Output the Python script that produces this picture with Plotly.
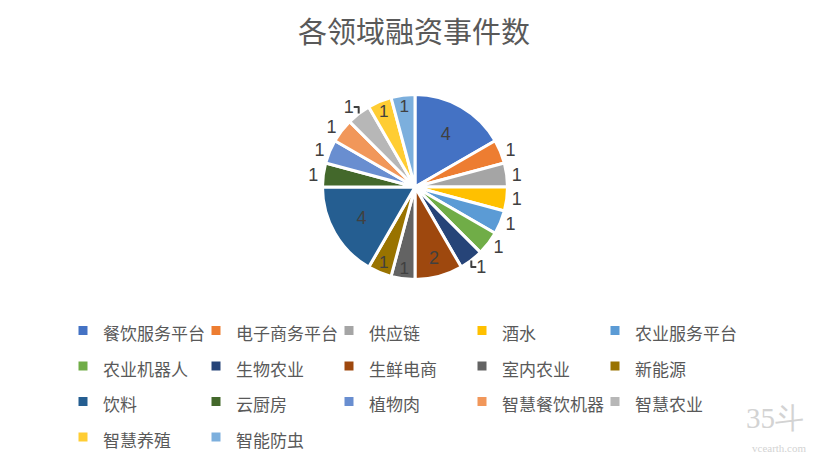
import plotly.graph_objects as go

categories = ["餐饮服务平台", "电子商务平台", "供应链", "酒水", "农业服务平台",
              "农业机器人", "生物农业", "生鲜电商", "室内农业", "新能源",
              "饮料", "云厨房", "植物肉", "智慧餐饮机器", "智慧农业",
              "智慧养殖", "智能防虫"]
values = [4, 1, 1, 1, 1, 1, 1, 2, 1, 1, 4, 1, 1, 1, 1, 1, 1]
colors = ["#4472C4", "#ED7D31", "#A5A5A5", "#FFC000", "#5B9BD5", "#70AD47",
          "#264478", "#9E480E", "#636363", "#997300", "#255E91", "#43682B",
          "#698ED0", "#F1975A", "#B7B7B7", "#FFCD33", "#7CAFDD"]
text_positions = ["inside", "outside", "outside", "outside", "outside", "outside",
                  "outside", "inside", "inside", "inside", "inside", "outside",
                  "outside", "outside", "outside", "inside", "inside"]

W, H = 825, 463
OFF = 8          # page body margin offset
MR = 40          # right margin so that the legend wraps after 5 entries
GW = W - MR      # plot-area width


def px_x(sx):
    return (sx - OFF) / GW


def px_y(sy):
    return 1 - (sy - OFF) / H


legend_labels = [f"<span style='font-size:17px'>{c}</span>" for c in categories]

cx, cy, r = 415, 187, 92.5
fig = go.Figure(go.Pie(
    labels=legend_labels, values=values, sort=False, direction="clockwise", rotation=0,
    marker=dict(colors=colors, line=dict(color="white", width=3)),
    textinfo="value", textposition=text_positions, insidetextorientation="horizontal",
    textfont=dict(size=18, color="#404040", family="Liberation Sans, Arial"),
    domain=dict(x=[px_x(cx - r), px_x(cx + r)], y=[px_y(cy + r), px_y(cy - r)]),
    automargin=False,
    hovertext=categories, hoverinfo="text+value",
))

# invisible legend title only widens the legend box so the last column is not clipped
spacer = "0" * 195

fig.update_layout(
    width=W, height=H,
    margin=dict(l=0, r=MR, t=0, b=0, autoexpand=False),
    paper_bgcolor="white", plot_bgcolor="white",
    font=dict(family="Noto Sans CJK SC, Liberation Sans", color="#595959"),
    title=dict(text="各领域融资事件数", x=(414 - OFF) / W, xanchor="center",
               y=1 - (33 - OFF) / H, yanchor="middle",
               font=dict(size=29, color="#595959")),
    legend=dict(orientation="h", x=55 / GW, xanchor="left", y=px_y(300), yanchor="top",
                entrywidth=88, entrywidthmode="pixels",
                bgcolor="rgba(0,0,0,0)",
                title=dict(text=spacer, side="top",
                           font=dict(size=6, color="rgba(0,0,0,0)", family="DejaVu Sans Mono")),
                font=dict(size=25, color="#595959"), itemwidth=30),
    showlegend=True,
    annotations=[
        dict(text="35斗", x=px_x(806), y=px_y(418), xref="paper", yref="paper",
             xanchor="right", yanchor="middle", showarrow=False,
             font=dict(size=29, color="#D3D3D3", family="Liberation Sans Narrow")),
        dict(text="vcearth.com", x=px_x(808), y=px_y(448), xref="paper", yref="paper",
             xanchor="right", yanchor="middle", showarrow=False,
             font=dict(size=11, color="#D3D3D3", family="Liberation Sans Narrow")),
    ],
)

fig.write_html("out.html")
